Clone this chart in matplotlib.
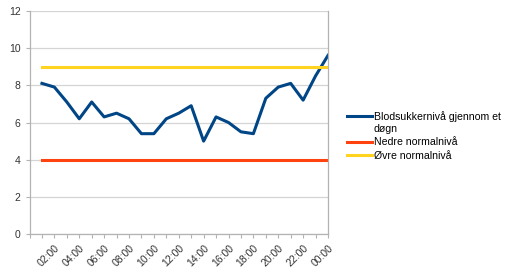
import matplotlib
matplotlib.use("Agg")
import matplotlib.pyplot as plt
from matplotlib.legend_handler import HandlerLine2D

# hours 01:00 .. 00:00
hours = ["01:00", "02:00", "03:00", "04:00", "05:00", "06:00", "07:00", "08:00",
         "09:00", "10:00", "11:00", "12:00", "13:00", "14:00", "15:00", "16:00",
         "17:00", "18:00", "19:00", "20:00", "21:00", "22:00", "23:00", "00:00"]
blodsukker = [8.1, 7.9, 7.1, 6.2, 7.1, 6.3, 6.5, 6.2, 5.4, 5.4, 6.2, 6.5,
              6.9, 5.0, 6.3, 6.0, 5.5, 5.4, 7.3, 7.9, 8.1, 7.2, 8.5, 9.6]
nedre = [4.0] * 24
ovre = [9.0] * 24


class FirstLineHandler(HandlerLine2D):
    # put the legend line next to the first line of a wrapped label
    def create_artists(self, legend, orig_handle, xdescent, ydescent, width,
                       height, fontsize, trans):
        return super().create_artists(legend, orig_handle, xdescent, ydescent - 9.5,
                                      width, height, fontsize, trans)


plt.rcParams['font.family'] = ['Liberation Sans', 'DejaVu Sans']

fig = plt.figure(figsize=(5.08, 2.74), dpi=100)
ax = fig.add_axes([29.5/508, 1 - 234.3/274, (328 - 29.5)/508, (234.3 - 10.7)/274])

x = list(range(1, len(hours) + 1))
l1, = ax.plot(x, blodsukker, color='#004586', lw=2.2, label='Blodsukkernivå gjennom et\ndøgn')
ax.plot(x, nedre, color='#ff420e', lw=2.2, label='Nedre normalnivå')
ax.plot(x, ovre, color='#ffd320', lw=2.2, label='Øvre normalnivå')

ax.set_xlim(0, 24)
ax.set_ylim(0, 12)
ax.set_yticks(range(0, 13, 2))
ax.set_xticks(range(0, 25))
labels = [hours[i - 1] if (i > 0 and i % 2 == 0) else '' for i in range(0, 25)]
ax.set_xticklabels(labels, rotation=45, ha='right', va='top', rotation_mode='anchor')
ax.grid(axis='y', color='#d4d4d4', lw=0.9)
ax.set_axisbelow(True)
ax.spines['top'].set_visible(False)
for s in ['left', 'right', 'bottom']:
    ax.spines[s].set_color('#b3b3b3')
    ax.spines[s].set_linewidth(0.9)
ax.tick_params(axis='both', colors='#b3b3b3', labelcolor='#333333', labelsize=7.5,
               length=3, width=0.8)
ax.tick_params(axis='x', pad=3)

ax.legend(loc='upper left', bbox_to_anchor=(343/508, 1 - 107/274),
          bbox_transform=fig.transFigure, frameon=False, fontsize=7.6,
          handlelength=2.3, handletextpad=0.2, labelspacing=0.35, borderaxespad=0,
          handler_map={l1: FirstLineHandler()})

fig.savefig('out.png', dpi=100)
